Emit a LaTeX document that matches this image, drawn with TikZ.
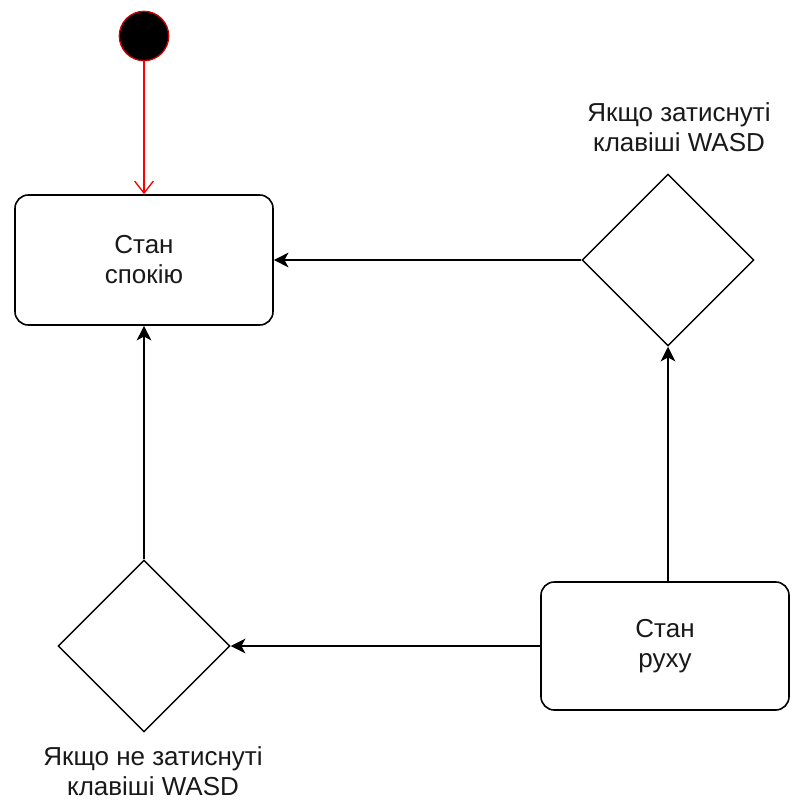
\documentclass[tikz,border=0pt]{standalone}
\usepackage{fontspec}
\setmainfont{Liberation Sans}
\usetikzlibrary{shapes.geometric,arrows.meta}
\begin{document}
\begin{tikzpicture}[x=0.75pt,y=-0.75pt,
  every node/.style={font=\fontsize{19.5}{22.5}\selectfont, text=black!90},
  statebox/.style={draw, line width=1.2pt, rounded corners=10pt, align=center, inner sep=0pt},
  choice/.style={draw, diamond, aspect=1, line width=1.1pt, inner sep=0pt, minimum width=129pt, minimum height=129pt},
  lbl/.style={align=center, inner sep=0pt},
  flow/.style={line width=1.2pt, -{Stealth[length=11pt,width=11pt,inset=3pt]}},
  startflow/.style={draw=red, line width=1pt, -{Straight Barb[length=9pt,width=14pt]}}]
\useasboundingbox (0,0) rectangle (790,803);
\node[circle, fill=black, draw=red!80!black, line width=1pt, minimum size=37pt, inner sep=0pt] (init) at (144,36) {};
\node[statebox, minimum width=193.5pt, minimum height=97.5pt] (rest) at (144,260) {Стан\\спокію};
\node[choice] (rd) at (668,260) {};
\node[lbl] (rdl) at (679,127) {Якщо затиснуті\\клавіші WASD};
\node[statebox, minimum width=186pt, minimum height=96pt] (move) at (665,646) {Стан\\руху};
\node[choice] (ld) at (144,646) {};
\node[lbl] (ldl) at (153,771) {Якщо не затиснуті\\клавіші WASD};
\draw[startflow] (init) -- (rest.north);
\draw[flow] (rd.west) -- (rest.east);
\draw[flow] (move.north -| rd.south) -- (rd.south);
\draw[flow] (move.west) -- (ld.east);
\draw[flow] (ld.north) -- (rest.south);
\end{tikzpicture}
\end{document}
